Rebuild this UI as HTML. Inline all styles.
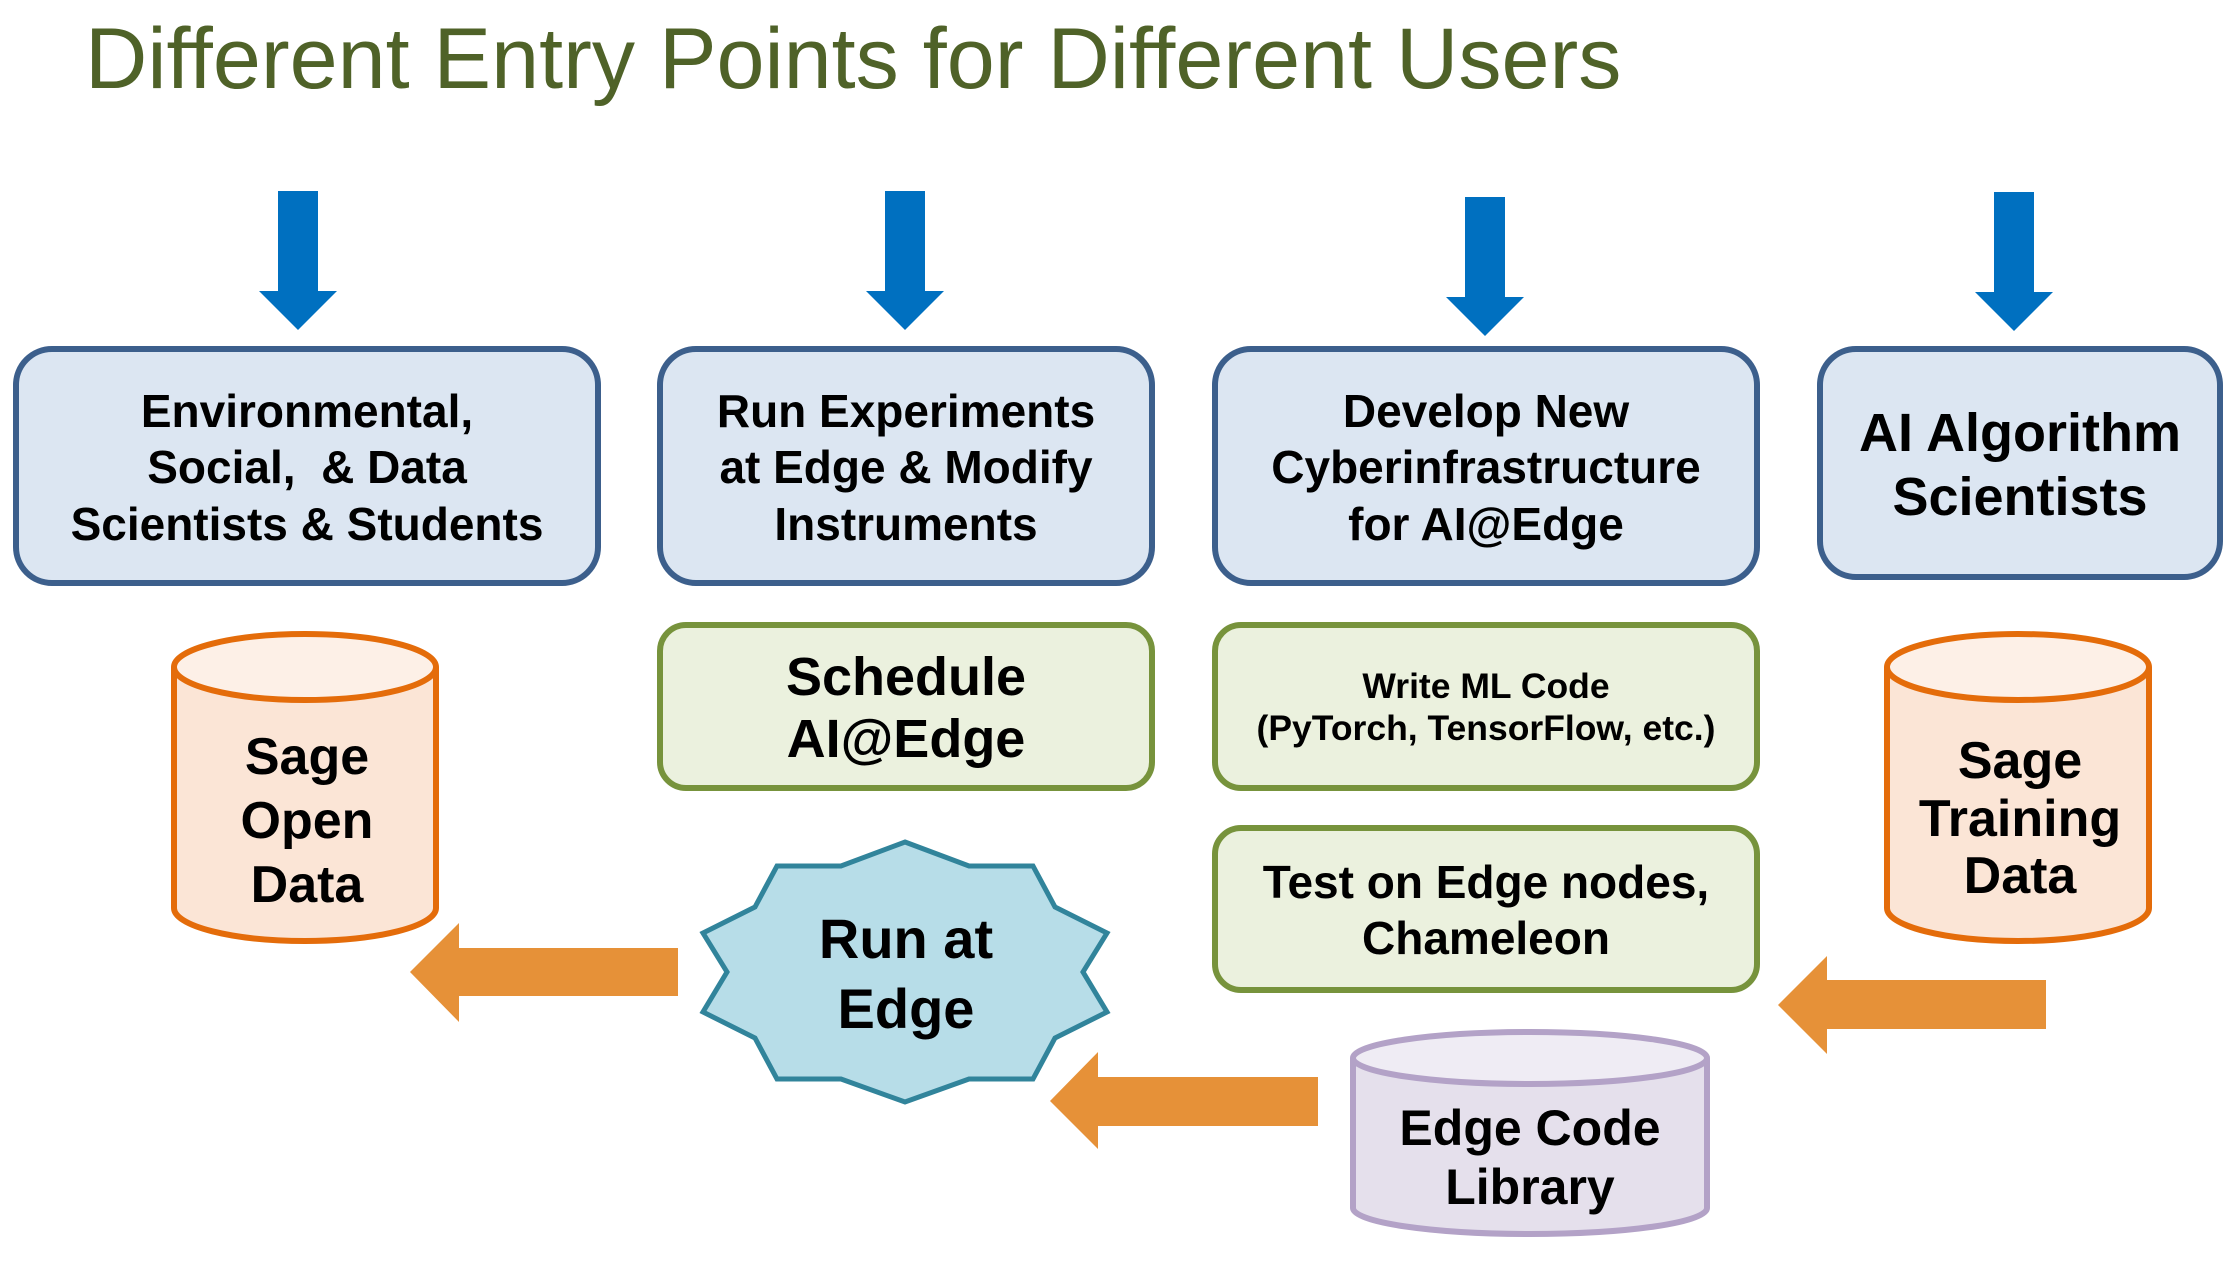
<!DOCTYPE html>
<html><head><meta charset="utf-8"><style>
body{margin:0;background:#fff}
svg text{font-family:"Liberation Sans",sans-serif;font-weight:bold;fill:#000;text-anchor:middle}
</style></head><body>
<svg width="2235" height="1257" viewBox="0 0 2235 1257" xmlns="http://www.w3.org/2000/svg">
<text x="85" y="88" style="font-weight:normal;text-anchor:start;fill:#4f6228" font-size="86.3">Different Entry Points for Different Users</text>
<g fill="#0070c0">
<polygon points="278,191 318,191 318,291 337,291 298,330 259,291 278,291"/>
<polygon points="885,191 925,191 925,291 944,291 905,330 866,291 885,291"/>
<polygon points="1465,197 1505,197 1505,297 1524,297 1485,336 1446,297 1465,297"/>
<polygon points="1994,192 2034,192 2034,292 2053,292 2014,331 1975,292 1994,292"/>
</g>
<g fill="#dce6f2" stroke="#3c5f8c" stroke-width="6">
<rect x="16" y="349" width="582" height="234" rx="36"/>
<rect x="660" y="349" width="492" height="234" rx="36"/>
<rect x="1215" y="349" width="542" height="234" rx="36"/>
<rect x="1820" y="349" width="400" height="228" rx="36"/>
</g>
<g font-size="46">
<text x="307" y="427">Environmental,</text>
<text x="307" y="483">Social,&#160; &amp; Data</text>
<text x="307" y="540">Scientists &amp; Students</text>
<text x="906" y="427">Run Experiments</text>
<text x="906" y="483">at Edge &amp; Modify</text>
<text x="906" y="540">Instruments</text>
<text x="1486" y="427">Develop New</text>
<text x="1486" y="483">Cyberinfrastructure</text>
<text x="1486" y="540">for AI@Edge</text>
</g>
<g font-size="54"><text x="2020" y="451">AI Algorithm</text><text x="2020" y="515">Scientists</text></g>
<g fill="#ebf1de" stroke="#77933c" stroke-width="6">
<rect x="660" y="625" width="492" height="163" rx="26"/>
<rect x="1215" y="625" width="542" height="163" rx="26"/>
<rect x="1215" y="828" width="542" height="162" rx="26"/>
</g>
<g font-size="54"><text x="906" y="695">Schedule</text><text x="906" y="757">AI@Edge</text></g>
<g font-size="35.5"><text x="1486" y="698">Write ML Code</text><text x="1486" y="740">(PyTorch, TensorFlow, etc.)</text></g>
<g font-size="46"><text x="1486" y="898">Test on Edge nodes,</text><text x="1486" y="954">Chameleon</text></g>
<g stroke="#e46c0a" stroke-width="6">
<path d="M174,667 L174,908 A131,33 0 0 0 436,908 L436,667" fill="#fbe5d6"/>
<ellipse cx="305" cy="667" rx="131" ry="33" fill="#fdf0e7"/>
<path d="M1887,667 L1887,908 A131,33 0 0 0 2149,908 L2149,667" fill="#fbe5d6"/>
<ellipse cx="2018" cy="667" rx="131" ry="33" fill="#fdf0e7"/>
</g>
<g stroke="#b3a2c7" stroke-width="6">
<path d="M1353,1058 L1353,1208 A177,26 0 0 0 1707,1208 L1707,1058" fill="#e5e0ec"/>
<ellipse cx="1530" cy="1058" rx="177" ry="26" fill="#efecf4"/>
</g>
<g font-size="52">
<text x="307" y="774">Sage</text><text x="307" y="838">Open</text><text x="307" y="902">Data</text>
<text x="2020" y="778">Sage</text><text x="2020" y="836">Training</text><text x="2020" y="893">Data</text>
</g>
<g font-size="50"><text x="1530" y="1145">Edge Code</text><text x="1530" y="1204">Library</text></g>
<polygon fill="#b7dde8" stroke="#31849b" stroke-width="5" points="905,842 969,866 1033,866 1055,907 1107,933 1083,972 1107,1012 1055,1038 1033,1079 969,1079 905,1102 841,1079 777,1079 755,1038 703,1012 727,972 703,933 755,907 777,866 841,866"/>
<g font-size="56"><text x="906" y="958">Run at</text><text x="906" y="1028">Edge</text></g>
<g fill="#e69138">
<polygon points="410,972 459,923 459,948 678,948 678,996 459,996 459,1022"/>
<polygon points="1050,1101 1098,1052 1098,1077 1318,1077 1318,1126 1098,1126 1098,1149"/>
<polygon points="1778,1005 1827,956 1827,980 2046,980 2046,1029 1827,1029 1827,1054"/>
</g>
</svg>
</body></html>
